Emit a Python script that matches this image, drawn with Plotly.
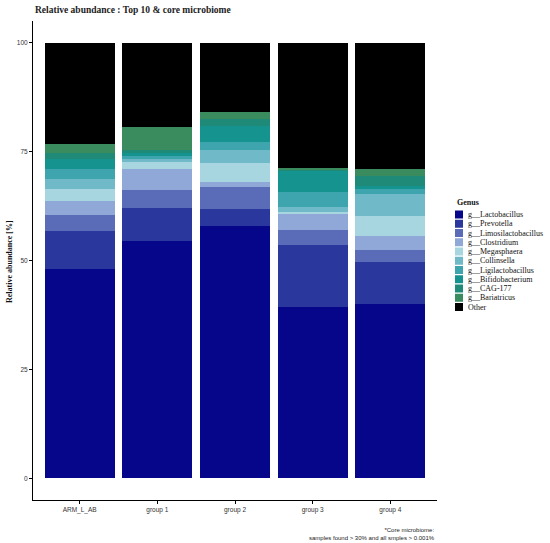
import plotly.graph_objects as go

samples = ["ARM_L_AB", "group 1", "group 2", "group 3", "group 4"]
genera = ["g__Lactobacillus", "g__Prevotella", "g__Limosilactobacillus", "g__Clostridium",
          "g__Megasphaera", "g__Collinsella", "g__Ligilactobacillus", "g__Bifidobacterium",
          "g__CAG-177", "g__Bariatricus", "Other"]
colors = ["#06068a", "#2a379c", "#5a6cb8", "#8fa8d8", "#a8d6e0", "#6fb9c8",
          "#3ea4ae", "#15938f", "#1f8a78", "#3a8c5e", "#000000"]

lactobacillus = [48.0, 54.5, 57.9, 39.4, 40.0]
prevotella = [8.8, 7.5, 3.9, 14.2, 9.7]
limosilactobacillus = [3.7, 4.2, 5.0, 3.4, 2.7]
clostridium = [3.2, 4.8, 1.3, 3.6, 3.2]
megasphaera = [2.7, 1.6, 4.2, 0.6, 4.6]
collinsella = [2.3, 0.7, 3.1, 1.2, 5.0]
ligilactobacillus = [2.3, 0.6, 1.9, 3.4, 1.2]
bifidobacterium = [2.3, 0.8, 3.5, 4.7, 0.8]
cag177 = [1.5, 0.7, 1.8, 0.5, 2.1]
bariatricus = [2.0, 5.3, 1.5, 0.2, 1.7]
other = [23.2, 19.3, 15.9, 28.8, 29.0]

values = [lactobacillus, prevotella, limosilactobacillus, clostridium, megasphaera,
          collinsella, ligilactobacillus, bifidobacterium, cag177, bariatricus, other]

serif = "Liberation Serif"
sans = "Liberation Sans"

fig = go.Figure()
for g, c, v in zip(genera, colors, values):
    fig.add_trace(go.Bar(x=samples, y=v, name=g, marker=dict(color=c, line=dict(width=0)),
                         width=0.9, showlegend=False))

# custom compact legend (paper coords)
W, H = 550, 543
ml, mr, mt, mb = 33, 113, 21, 43
pw, ph = W - ml - mr, H - mt - mb
def px_to_paper_x(px):
    return (px - ml) / pw
def px_to_paper_y(py):
    return (H - mb - py) / ph

shapes = []
annotations = []
annotations.append(dict(text="<b>Genus</b>", x=px_to_paper_x(455), y=px_to_paper_y(203),
                        xref="paper", yref="paper", xanchor="left", yanchor="middle",
                        showarrow=False, font=dict(family=serif, size=8, color="#111")))
y0 = 214.5
step = 9.25
for i, (g, c) in enumerate(zip(genera, colors)):
    cy = y0 + i * step
    shapes.append(dict(type="rect", xref="paper", yref="paper",
                       x0=px_to_paper_x(455), x1=px_to_paper_x(463),
                       y0=px_to_paper_y(cy - 4), y1=px_to_paper_y(cy + 4),
                       fillcolor=c, line=dict(width=0)))
    annotations.append(dict(text=g, x=px_to_paper_x(466), y=px_to_paper_y(cy),
                            xref="paper", yref="paper", xanchor="left", yanchor="middle",
                            showarrow=False, font=dict(family=serif, size=8, color="#111")))

annotations.append(dict(text="*Core microbiome:<br>samples found > 30% and all smples > 0.001%",
                        x=1, y=px_to_paper_y(525), xref="paper", yref="paper",
                        xanchor="right", yanchor="top", align="right", showarrow=False,
                        font=dict(family=sans, size=6, color="#222")))

annotations.append(dict(text="<b>Relative abundance [%]</b>", textangle=-90,
                        x=px_to_paper_x(9), y=px_to_paper_y(262), xref="paper", yref="paper",
                        xanchor="center", yanchor="middle", showarrow=False,
                        font=dict(family=serif, size=8, color="#111")))

fig.update_layout(
    width=W, height=H,
    margin=dict(l=ml, r=mr, t=mt, b=mb),
    plot_bgcolor="white", paper_bgcolor="white",
    barmode="stack", bargap=0,
    title=dict(text="<b>Relative abundance : Top 10 & core microbiome</b>",
               x=35 / W, xanchor="left", y=1 - 10 / H, yanchor="middle",
               font=dict(family=serif, size=9.5, color="#222")),
    xaxis=dict(range=[-0.6, 4.6], showline=True, linecolor="black", linewidth=1,
               ticks="outside", ticklen=3, tickcolor="black", automargin=False,
               tickfont=dict(family=sans, size=6.5, color="#333"), showgrid=False),
    yaxis=dict(range=[-5, 105], tickvals=[0, 25, 50, 75, 100], showline=True,
               linecolor="black", linewidth=1, ticks="outside", ticklen=3, tickcolor="black",
               tickfont=dict(family=sans, size=6.5, color="#333"), showgrid=False, zeroline=False,
               automargin=False),
    shapes=shapes, annotations=annotations,
)

fig.write_html("out.html", config={"displayModeBar": False},
               post_script="document.body.style.margin='0';document.body.style.overflow='hidden';")
